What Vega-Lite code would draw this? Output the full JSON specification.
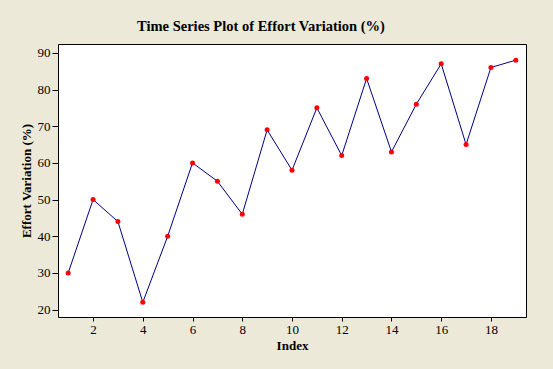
{
  "$schema": "https://vega.github.io/schema/vega-lite/v6.json",
  "width": 468,
  "height": 273,
  "autosize": {"type": "none"},
  "padding": {"left": 58, "top": 44, "right": 27, "bottom": 52},
  "background": "#ECE9D8",
  "title": {
    "text": "Time Series Plot of Effort Variation (%)",
    "font": "Liberation Serif",
    "fontSize": 14.5,
    "fontWeight": "bold",
    "color": "black",
    "anchor": "middle",
    "offset": 10,
    "dx": -31
  },
  "config": {
    "view": {"stroke": "black", "strokeWidth": 1, "fill": "white"},
    "axis": {
      "grid": false,
      "domain": false,
      "tickColor": "black",
      "labelColor": "black",
      "labelFont": "Liberation Serif",
      "labelFontSize": 13,
      "titleFont": "Liberation Serif",
      "titleFontSize": 13,
      "titleFontWeight": "bold",
      "titleColor": "black"
    }
  },
  "data": {
    "values": [
      {"Index": 1, "Effort": 30},
      {"Index": 2, "Effort": 50},
      {"Index": 3, "Effort": 44},
      {"Index": 4, "Effort": 22},
      {"Index": 5, "Effort": 40},
      {"Index": 6, "Effort": 60},
      {"Index": 7, "Effort": 55},
      {"Index": 8, "Effort": 46},
      {"Index": 9, "Effort": 69},
      {"Index": 10, "Effort": 58},
      {"Index": 11, "Effort": 75},
      {"Index": 12, "Effort": 62},
      {"Index": 13, "Effort": 83},
      {"Index": 14, "Effort": 63},
      {"Index": 15, "Effort": 76},
      {"Index": 16, "Effort": 87},
      {"Index": 17, "Effort": 65},
      {"Index": 18, "Effort": 86},
      {"Index": 19, "Effort": 88}
    ]
  },
  "encoding": {
    "x": {
      "field": "Index",
      "type": "quantitative",
      "scale": {"domain": [0.59, 19.41], "nice": false, "zero": false},
      "axis": {"values": [2, 4, 6, 8, 10, 12, 14, 16, 18], "tickSize": 4, "labelPadding": 2, "title": "Index", "titlePadding": 3}
    },
    "y": {
      "field": "Effort",
      "type": "quantitative",
      "scale": {"domain": [18, 92.4], "nice": false, "zero": false},
      "axis": {"values": [20, 30, 40, 50, 60, 70, 80, 90], "tickSize": 6, "labelPadding": 2, "title": "Effort Variation (%)", "titlePadding": 4}
    }
  },
  "layer": [
    {"mark": {"type": "line", "color": "#000080", "strokeWidth": 1}},
    {"mark": {"type": "point", "filled": true, "color": "#FF0000", "size": 25, "opacity": 1}}
  ]
}
